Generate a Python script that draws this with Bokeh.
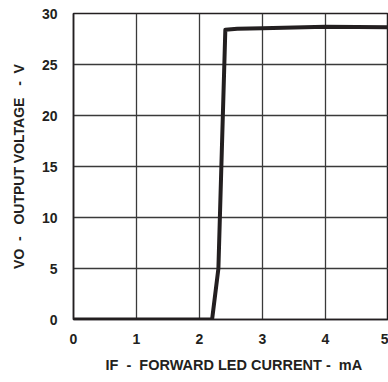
from math import pi
from bokeh.plotting import figure
from bokeh.models import Range1d, Label, FixedTicker
from bokeh.embed import file_html
from bokeh.resources import INLINE

# data
i_f = [0, 2.2, 2.3, 2.41, 2.6, 3.0, 4.0, 5.0]
v_o = [0, 0, 5, 28.4, 28.5, 28.55, 28.7, 28.65]
x_ticks = [0, 1, 2, 3, 4, 5]
y_ticks = [0, 5, 10, 15, 20, 25, 30]
NB = "\u00a0"
x_title = "IF" + NB * 2 + "-" + NB * 2 + "FORWARD LED CURRENT" + NB + "-" + NB * 2 + "mA"
y_title = "VO" + NB * 2 + "-" + NB * 3 + "OUTPUT VOLTAGE" + NB * 3 + "-" + NB * 2 + "V"

FONT = "Liberation Sans"
INK = "#231f20"
W, H = 388, 382
LEFT, TOP, BOTTOM = 73, 13, 63

p = figure(width=W, height=H, output_backend="svg", toolbar_location=None,
           x_range=Range1d(0, 5), y_range=Range1d(0, 30),
           min_border_left=LEFT, min_border_right=0, min_border_top=TOP,
           min_border_bottom=BOTTOM)
p.outline_line_color = INK
p.outline_line_width = 1.5

for ax in (p.xaxis[0], p.yaxis[0]):
    ax.major_tick_line_color = None
    ax.minor_tick_line_color = None
    ax.axis_line_color = INK
    ax.axis_line_width = 1.5
    ax.major_label_text_font = FONT
    ax.major_label_text_font_style = "bold"
    ax.major_label_text_font_size = "14px"
    ax.major_label_text_color = INK
p.xaxis.ticker = FixedTicker(ticks=x_ticks)
p.yaxis.ticker = FixedTicker(ticks=y_ticks)
p.xaxis.major_label_standoff = 8
p.yaxis.major_label_standoff = 10

p.xgrid.ticker = FixedTicker(ticks=x_ticks)
p.ygrid.ticker = FixedTicker(ticks=y_ticks)
for g in (p.xgrid[0], p.ygrid[0]):
    g.grid_line_color = "#3a3a3a"
    g.grid_line_width = 1.3

p.line(i_f, v_o, line_color=INK, line_width=4, line_join="round")

# axis titles as single labels in the side panels (not clipped to the frame)
p.add_layout(Label(x=32, y=-10, x_units="screen", y_units="screen", text=x_title,
                   text_font=FONT, text_font_style="bold", text_font_size="14.5px",
                   text_color=INK, text_align="left", text_baseline="bottom"), "below")
p.add_layout(Label(x=4, y=153, x_units="screen", y_units="screen", text=y_title,
                   text_font=FONT, text_font_style="bold", text_font_size="14px",
                   text_color=INK, angle=pi / 2, text_align="center",
                   text_baseline="bottom"), "left")

open("out.html", "w").write(file_html(p, INLINE))
